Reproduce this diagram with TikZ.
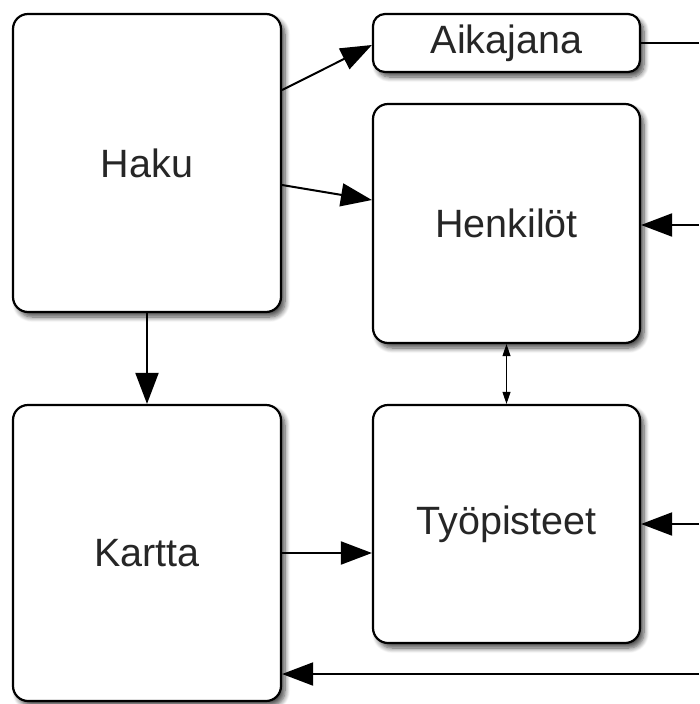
\documentclass[tikz,border=0pt]{standalone}
\usepackage{fontspec}
\setmainfont{Liberation Sans}
\usetikzlibrary{arrows.meta,shadows.blur,calc}

\tikzset{
  box/.style={draw=black, line width=2.2pt, rounded corners=15pt, fill=white,
    text=black!85, font=\fontsize{39.5}{44}\selectfont, inner sep=0pt,
    blur shadow={shadow xshift=4pt, shadow yshift=-5pt, shadow blur steps=8,
      shadow blur radius=5pt, shadow opacity=70}},
  flow/.style={draw=black, line width=2pt,
    -{Triangle[length=31pt,width=23pt]}},
  thinflow/.style={draw=black, line width=0.9pt,
    {Triangle[length=12pt,width=8pt]}-{Triangle[length=12pt,width=8pt]}},
  plain/.style={draw=black, line width=2pt},
}

\begin{document}
\begin{tikzpicture}[x=1pt,y=-1pt]
  \useasboundingbox (0,0) rectangle (699,704);

  % boxes
  \node[box, minimum width=268pt, minimum height=298pt] (haku)  at (147,163)   {Haku};
  \node[box, minimum width=267pt, minimum height=58pt, rounded corners=12pt] (aika) at (506.5,43) {Aikajana};
  \node[box, minimum width=267pt, minimum height=239pt] (henk)  at (506.5,223.5) {Henkilöt};
  \node[box, minimum width=268pt, minimum height=296pt] (kartta) at (147,553)  {Kartta};
  \node[box, minimum width=267pt, minimum height=238pt] (tyo)   at (506.5,524) {Työpisteet};

  % endpoints at the right border
  \coordinate (rA) at (699,43);
  \coordinate (rH) at (699,225);
  \coordinate (rT) at (699,524);
  \coordinate (rK) at (699,674);

  % connectors from Haku
  \coordinate (h1) at ([yshift=73pt]haku.east);
  \coordinate (h2) at ([yshift=-22pt]haku.east);
  \draw[flow] (h1) -- ([yshift=-2pt]aika.west);
  \draw[flow] (h2) -- ([yshift=23.5pt]henk.west);
  \draw[flow] (haku.south) -- (kartta.north);

  % Kartta to Työpisteet
  \draw[flow] (kartta.east) -- (tyo.west |- kartta.east);

  % Henkilöt <-> Työpisteet
  \draw[thinflow] (henk.south) -- (tyo.north);

  % lines at the right border
  \draw[plain] (aika.east) -- (rA);
  \draw[flow] (rH) -- (henk.east |- rH);
  \draw[flow] (rT) -- (tyo.east |- rT);
  \draw[flow] (rK) -- (kartta.east |- rK);
\end{tikzpicture}
\end{document}
